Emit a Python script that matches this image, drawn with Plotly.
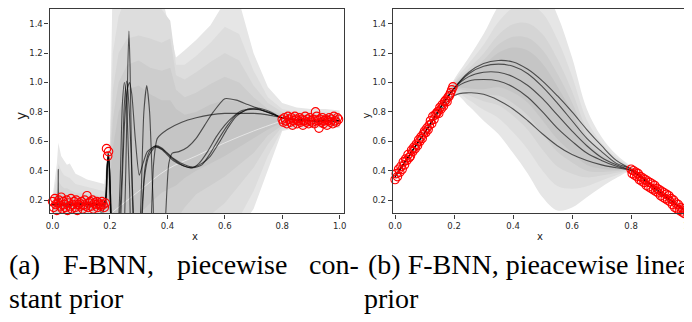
import plotly.graph_objects as go

# ---------------- data: left panel (a) ----------------
XL = [0.0, 0.015, 0.02, 0.03, 0.04, 0.05, 0.06, 0.08, 0.1, 0.12, 0.14, 0.16, 0.18, 0.19, 0.2,
      0.21, 0.23, 0.26, 0.3, 0.34, 0.38, 0.41, 0.43, 0.46, 0.5, 0.55, 0.6, 0.65, 0.7, 0.75,
      0.8, 0.85, 0.9, 0.95, 1.0]
A_B1_U = [0.22, 0.45, 0.59, 0.50, 0.47, 0.44, 0.45, 0.38, 0.36, 0.34, 0.33, 0.32, 0.31, 0.50, 0.60,
          1.80, 1.80, 1.80, 1.80, 1.80, 1.60, 1.35, 1.17, 1.22, 1.29, 1.39, 1.55, 1.55, 1.20, 0.97,
          0.86, 0.83, 0.82, 0.82, 0.81]
A_B1_L = [0.10, 0.10, 0.10, 0.10, 0.10, 0.10, 0.10, 0.10, 0.10, 0.10, 0.10, 0.10, 0.10, 0.10, 0.10,
          0.0, 0.0, 0.0, 0.0, 0.0, 0.0, 0.0, 0.0, 0.0, 0.0, 0.0, 0.0, 0.0, 0.14, 0.41,
          0.67, 0.69, 0.69, 0.69, 0.69]
A_B2_U = [0.20, 0.36, 0.45, 0.40, 0.37, 0.36, 0.35, 0.31, 0.30, 0.29, 0.28, 0.27, 0.26, 0.45, 0.56,
          1.20, 1.45, 1.60, 1.65, 1.60, 1.50, 1.42, 1.12, 1.12, 1.18, 1.27, 1.38, 1.33, 1.08, 0.90,
          0.82, 0.80, 0.80, 0.80, 0.79]
A_B2_L = [0.11, 0.11, 0.11, 0.11, 0.11, 0.11, 0.11, 0.11, 0.11, 0.11, 0.11, 0.11, 0.11, 0.11, 0.11,
          0.0, 0.0, 0.0, 0.0, 0.0, 0.0, 0.0, 0.0, 0.0, 0.0, 0.0, 0.0, 0.08, 0.26, 0.50,
          0.68, 0.70, 0.70, 0.70, 0.70]
A_B3_U = [0.19, 0.27, 0.33, 0.30, 0.28, 0.28, 0.27, 0.25, 0.25, 0.24, 0.24, 0.23, 0.23, 0.40, 0.50,
          0.95, 1.20, 1.30, 1.32, 1.30, 1.27, 1.30, 1.05, 1.02, 1.07, 1.14, 1.20, 1.15, 0.98, 0.86,
          0.80, 0.78, 0.78, 0.78, 0.78]
A_B3_L = [0.12, 0.12, 0.12, 0.12, 0.12, 0.12, 0.12, 0.12, 0.12, 0.12, 0.12, 0.12, 0.12, 0.12, 0.12,
          0.0, 0.0, 0.0, 0.0, 0.0, 0.0, 0.0, 0.0, 0.0, 0.0, 0.10, 0.18, 0.30, 0.42, 0.58,
          0.70, 0.71, 0.71, 0.71, 0.71]
A_B4_U = [0.18, 0.22, 0.26, 0.24, 0.23, 0.23, 0.22, 0.22, 0.22, 0.21, 0.21, 0.21, 0.21, 0.35, 0.45,
          0.75, 1.00, 1.12, 1.15, 1.10, 1.08, 1.10, 0.95, 0.90, 0.93, 0.99, 1.04, 1.00, 0.90, 0.82,
          0.78, 0.77, 0.77, 0.77, 0.77]
A_B4_L = [0.13, 0.13, 0.13, 0.13, 0.13, 0.13, 0.13, 0.13, 0.13, 0.13, 0.13, 0.13, 0.13, 0.13, 0.13,
          0.0, 0.0, 0.0, 0.0, 0.0, 0.0, 0.0, 0.05, 0.15, 0.24, 0.30, 0.36, 0.44, 0.52, 0.64,
          0.71, 0.72, 0.72, 0.72, 0.72]
A_B5_U = [0.17, 0.20, 0.22, 0.21, 0.20, 0.20, 0.20, 0.20, 0.20, 0.19, 0.19, 0.19, 0.19, 0.30, 0.35,
          0.55, 0.80, 0.95, 0.98, 0.92, 0.88, 0.88, 0.82, 0.78, 0.80, 0.85, 0.88, 0.87, 0.82, 0.78,
          0.76, 0.76, 0.76, 0.76, 0.76]
A_B5_L = [0.14, 0.14, 0.14, 0.14, 0.14, 0.14, 0.14, 0.14, 0.14, 0.14, 0.14, 0.14, 0.14, 0.14, 0.14,
          0.0, 0.0, 0.0, 0.10, 0.18, 0.25, 0.28, 0.30, 0.35, 0.40, 0.45, 0.50, 0.56, 0.62, 0.68,
          0.73, 0.73, 0.73, 0.73, 0.73]

A_MEAN_X = [0.21, 0.3, 0.4, 0.5, 0.6, 0.7, 0.8]
A_MEAN_Y = [0.12, 0.26, 0.41, 0.50, 0.59, 0.67, 0.74]

A_L1_X = [0.0, 0.06, 0.12, 0.17, 0.183, 0.19, 0.194, 0.199, 0.205, 0.22, 0.245, 0.255, 0.262, 0.266,
          0.27, 0.277, 0.29, 0.32, 0.34, 0.352, 0.365, 0.4, 0.45, 0.5, 0.55, 0.6, 0.65, 0.7, 0.75,
          0.8, 0.9, 1.0]
A_L1_Y = [0.17, 0.17, 0.17, 0.17, 0.19, 0.40, 0.52, 0.40, 0.05, -0.5, -0.2, 0.4, 1.1, 1.35,
          1.1, 0.3, -0.3, -0.5, -0.1, 0.45, 0.62, 0.68, 0.73, 0.76, 0.78, 0.79, 0.79, 0.79, 0.78,
          0.76, 0.74, 0.74]
A_L2_X = [0.0, 0.06, 0.12, 0.17, 0.183, 0.19, 0.194, 0.199, 0.205, 0.22, 0.238, 0.25, 0.26, 0.268,
          0.276, 0.288, 0.302, 0.315, 0.33, 0.355, 0.38, 0.42, 0.46, 0.486, 0.51, 0.54, 0.57, 0.6,
          0.63, 0.66, 0.7, 0.75, 0.8, 0.9, 1.0]
A_L2_Y = [0.17, 0.16, 0.18, 0.17, 0.18, 0.40, 0.51, 0.40, 0.05, -0.4, 0.1, 0.7, 0.95, 1.0,
          0.92, 0.62, 0.37, 0.45, 0.53, 0.565, 0.55, 0.48, 0.43, 0.42, 0.45, 0.53, 0.63, 0.71,
          0.77, 0.81, 0.82, 0.80, 0.76, 0.74, 0.74]
A_L3_X = [0.0, 0.015, 0.02, 0.025, 0.05, 0.1, 0.15, 0.18, 0.188, 0.193, 0.198, 0.205, 0.22, 0.235,
          0.243, 0.25, 0.258, 0.268, 0.285, 0.3, 0.31, 0.32, 0.335, 0.357, 0.38, 0.42, 0.46, 0.49,
          0.52, 0.55, 0.58, 0.61, 0.64, 0.68, 0.72, 0.76, 0.8, 0.9, 1.0]
A_L3_Y = [0.17, 0.17, 0.41, 0.17, 0.16, 0.17, 0.17, 0.17, 0.35, 0.52, 0.35, 0.05, -0.3, 0.3,
          0.85, 1.0, 0.85, 0.3, -0.4, -0.4, 0.0, 0.35, 0.5, 0.56, 0.545, 0.47, 0.43, 0.42,
          0.44, 0.52, 0.62, 0.71, 0.78, 0.815, 0.815, 0.79, 0.76, 0.74, 0.74]
A_L4_X = [0.0, 0.06, 0.12, 0.17, 0.185, 0.191, 0.196, 0.202, 0.215, 0.24, 0.25, 0.258, 0.266, 0.28,
          0.295, 0.308, 0.318, 0.328, 0.338, 0.35, 0.365, 0.38, 0.394, 0.405, 0.417, 0.44, 0.47,
          0.5, 0.53, 0.56, 0.6, 0.64, 0.68, 0.72, 0.76, 0.8, 0.9, 1.0]
A_L4_Y = [0.17, 0.18, 0.16, 0.17, 0.2, 0.45, 0.5, 0.1, -0.4, 0.3, 0.85, 1.01, 0.85, 0.2,
          -0.4, 0.2, 0.8, 0.98, 0.8, 0.2, -0.4, -0.4, 0.1, 0.45, 0.52, 0.53, 0.56,
          0.62, 0.71, 0.80, 0.89, 0.88, 0.85, 0.82, 0.79, 0.76, 0.74, 0.74]
A_L5_X = [0.0, 0.06, 0.12, 0.16, 0.172, 0.185, 0.192, 0.197, 0.203, 0.22, 0.26, 0.3, 0.312, 0.322,
          0.337, 0.358, 0.38, 0.42, 0.46, 0.49, 0.52, 0.55, 0.58, 0.61, 0.64, 0.68, 0.72, 0.76,
          0.8, 0.9, 1.0]
A_L5_Y = [0.17, 0.17, 0.18, 0.17, 0.10, 0.2, 0.48, 0.45, 0.05, -0.4, -0.5, -0.3, 0.15, 0.42,
          0.53, 0.57, 0.555, 0.485, 0.44, 0.425, 0.45, 0.5, 0.59, 0.69, 0.77, 0.82, 0.825, 0.80,
          0.76, 0.74, 0.74]

A_PTS1_X = [0.0, 0.004, 0.008, 0.011, 0.015, 0.019, 0.022, 0.026, 0.03, 0.034, 0.037, 0.041, 0.045,
            0.049, 0.052, 0.056, 0.06, 0.064, 0.067, 0.071, 0.075, 0.079, 0.082, 0.086, 0.09,
            0.094, 0.097, 0.101, 0.105, 0.109, 0.112, 0.116, 0.12, 0.124, 0.127, 0.131, 0.135,
            0.139, 0.142, 0.146, 0.15, 0.154, 0.157, 0.161, 0.165, 0.169, 0.172, 0.176, 0.18, 0.184]
A_PTS1_Y = [0.19, 0.15, 0.21, 0.17, 0.13, 0.18, 0.20, 0.16, 0.22, 0.14, 0.19, 0.17, 0.15,
            0.20, 0.13, 0.18, 0.16, 0.21, 0.14, 0.17, 0.19, 0.15, 0.20, 0.13, 0.17,
            0.18, 0.16, 0.19, 0.14, 0.17, 0.20, 0.16, 0.23, 0.15, 0.18, 0.19, 0.16,
            0.20, 0.14, 0.18, 0.17, 0.19, 0.15, 0.18, 0.17, 0.16, 0.19, 0.17, 0.15, 0.18]
A_PTS2_X = [0.188, 0.192, 0.195]
A_PTS2_Y = [0.55, 0.50, 0.53]
A_PTS3_X = [0.800, 0.804, 0.808, 0.812, 0.816, 0.820, 0.824, 0.828, 0.832, 0.836,
            0.840, 0.844, 0.848, 0.852, 0.856, 0.860, 0.864, 0.868, 0.872, 0.876,
            0.880, 0.884, 0.888, 0.892, 0.896, 0.900, 0.904, 0.908, 0.912, 0.916,
            0.920, 0.924, 0.928, 0.932, 0.936, 0.940, 0.944, 0.948, 0.952, 0.956,
            0.960, 0.964, 0.968, 0.972, 0.976, 0.980, 0.984, 0.988, 0.992, 0.996]
A_PTS3_Y = [0.75, 0.73, 0.76, 0.74, 0.72, 0.77, 0.75, 0.73, 0.76, 0.71,
            0.74, 0.77, 0.75, 0.72, 0.74, 0.76, 0.73, 0.75, 0.71, 0.74,
            0.77, 0.73, 0.75, 0.72, 0.76, 0.74, 0.73, 0.75, 0.72, 0.80,
            0.77, 0.74, 0.69, 0.75, 0.73, 0.76, 0.72, 0.74, 0.75, 0.71,
            0.74, 0.76, 0.73, 0.75, 0.72, 0.77, 0.74, 0.73, 0.76, 0.75]

# ---------------- data: right panel (b) ----------------
XR = [0.0, 0.1, 0.2, 0.25, 0.3, 0.35, 0.4, 0.45, 0.5, 0.55, 0.6, 0.65, 0.7, 0.75, 0.8, 0.9, 1.0]
B_B1_U = [0.38, 0.67, 1.02, 1.17, 1.33, 1.52, 1.65, 1.70, 1.65, 1.46, 1.17, 0.82, 0.63, 0.51, 0.43, 0.27, 0.12]
B_B1_L = [0.34, 0.63, 0.92, 0.84, 0.74, 0.65, 0.52, 0.38, 0.22, 0.13, 0.15, 0.22, 0.29, 0.35, 0.39, 0.23, 0.08]
B_B2_U = [0.375, 0.665, 1.008, 1.129, 1.256, 1.411, 1.509, 1.535, 1.471, 1.294, 1.043, 0.745, 0.588, 0.49, 0.425, 0.265, 0.115]
B_B2_L = [0.345, 0.635, 0.933, 0.881, 0.814, 0.759, 0.661, 0.545, 0.399, 0.296, 0.278, 0.295, 0.333, 0.37, 0.395, 0.235, 0.085]
B_B3_U = [0.371, 0.661, 0.998, 1.096, 1.197, 1.324, 1.396, 1.403, 1.328, 1.161, 0.941, 0.685, 0.554, 0.474, 0.421, 0.261, 0.111]
B_B3_L = [0.349, 0.639, 0.943, 0.914, 0.873, 0.846, 0.774, 0.677, 0.542, 0.429, 0.380, 0.355, 0.367, 0.386, 0.399, 0.239, 0.089]
B_B4_U = [0.368, 0.658, 0.99, 1.071, 1.153, 1.259, 1.311, 1.304, 1.221, 1.061, 0.864, 0.64, 0.528, 0.462, 0.418, 0.258, 0.108]
B_B4_L = [0.352, 0.642, 0.95, 0.939, 0.917, 0.911, 0.859, 0.776, 0.649, 0.529, 0.456, 0.40, 0.392, 0.398, 0.402, 0.242, 0.092]
B_B5_U = [0.365, 0.655, 0.984, 1.050, 1.115, 1.202, 1.238, 1.218, 1.128, 0.975, 0.798, 0.601, 0.506, 0.452, 0.415, 0.255, 0.105]
B_B5_L = [0.355, 0.645, 0.957, 0.960, 0.955, 0.968, 0.932, 0.862, 0.742, 0.615, 0.522, 0.439, 0.414, 0.408, 0.405, 0.245, 0.095]

B_LA = [0.36, 0.66, 0.96, 1.07, 1.13, 1.15, 1.14, 1.09, 1.01, 0.91, 0.80, 0.68, 0.57, 0.47, 0.41, 0.25, 0.10]
B_LB = [0.36, 0.66, 0.96, 1.06, 1.11, 1.125, 1.11, 1.06, 0.97, 0.86, 0.74, 0.62, 0.53, 0.45, 0.41, 0.25, 0.10]
B_LC = [0.36, 0.66, 0.96, 1.04, 1.07, 1.07, 1.04, 0.98, 0.89, 0.78, 0.67, 0.57, 0.49, 0.44, 0.40, 0.25, 0.10]
B_LD = [0.36, 0.66, 0.955, 1.01, 1.02, 1.01, 0.97, 0.90, 0.80, 0.69, 0.60, 0.52, 0.47, 0.43, 0.40, 0.25, 0.10]
B_LE = [0.36, 0.66, 0.91, 0.93, 0.92, 0.88, 0.82, 0.74, 0.65, 0.57, 0.51, 0.47, 0.44, 0.42, 0.40, 0.25, 0.10]

B_PTS1_X = [0.0, 0.004, 0.008, 0.012, 0.016, 0.02, 0.024, 0.028, 0.032, 0.036, 0.04, 0.044, 0.048,
            0.052, 0.056, 0.06, 0.064, 0.068, 0.072, 0.076, 0.08, 0.084, 0.088, 0.092, 0.096, 0.1,
            0.104, 0.108, 0.112, 0.116, 0.12, 0.124, 0.128, 0.132, 0.136, 0.14, 0.144, 0.148,
            0.152, 0.156, 0.16, 0.164, 0.168, 0.172, 0.176, 0.18, 0.184, 0.188, 0.192, 0.196]
B_PTS1_Y = [0.34, 0.38, 0.36, 0.41, 0.39, 0.43, 0.41, 0.46, 0.44, 0.48, 0.47, 0.51, 0.49,
            0.50, 0.54, 0.53, 0.56, 0.55, 0.58, 0.57, 0.61, 0.60, 0.63, 0.62, 0.65, 0.67,
            0.66, 0.69, 0.68, 0.71, 0.74, 0.72, 0.77, 0.75, 0.78, 0.79, 0.80, 0.79,
            0.83, 0.82, 0.85, 0.84, 0.87, 0.88, 0.87, 0.90, 0.91, 0.93, 0.95, 0.97]
B_PTS2_X = [0.800, 0.804, 0.808, 0.812, 0.816, 0.820, 0.824, 0.828, 0.832, 0.836,
            0.840, 0.844, 0.848, 0.852, 0.856, 0.860, 0.864, 0.868, 0.872, 0.876,
            0.880, 0.884, 0.888, 0.892, 0.896, 0.900, 0.904, 0.908, 0.912, 0.916,
            0.920, 0.924, 0.928, 0.932, 0.936, 0.940, 0.944, 0.948, 0.952, 0.956,
            0.960, 0.964, 0.968, 0.972, 0.976, 0.980, 0.984, 0.988, 0.992, 0.996]
B_PTS2_Y = [0.41, 0.38, 0.40, 0.37, 0.39, 0.36, 0.38, 0.34, 0.36, 0.33,
            0.35, 0.32, 0.34, 0.30, 0.33, 0.29, 0.32, 0.28, 0.31, 0.27,
            0.30, 0.26, 0.28, 0.25, 0.27, 0.23, 0.26, 0.22, 0.25, 0.21,
            0.24, 0.20, 0.23, 0.19, 0.21, 0.17, 0.20, 0.15, 0.18, 0.14,
            0.17, 0.13, 0.15, 0.12, 0.14, 0.11, 0.13, 0.10, 0.12, 0.10]

TICKS_X = [0.0, 0.2, 0.4, 0.6, 0.8, 1.0]
TICKS_Y = [0.2, 0.4, 0.6, 0.8, 1.0, 1.2, 1.4]

# ---------------- styles / layout helpers ----------------
W, H = 692, 322
OFF = 8  # the page body margin shifts the figure by 8 px; compensate
BAND_COLORS = ['#e6e6e6', '#dddddd', '#d5d5d5', '#cdcdcd', '#c5c5c5']
LINE_COLOR = 'rgba(0,0,0,0.62)'

def fx(p):
    return (p - OFF) / W

def fy(p):
    return 1 - (p - OFF) / H

fig = go.Figure()

def add_bands(xs, bands, xa, ya, shape):
    for (u, l), col in zip(bands, BAND_COLORS):
        fig.add_trace(go.Scatter(
            x=list(xs) + list(xs)[::-1], y=list(u) + list(l)[::-1],
            mode='lines', fill='toself', fillcolor=col,
            line=dict(color=col, width=0, shape=shape),
            hoverinfo='skip', showlegend=False, xaxis=xa, yaxis=ya))

def add_line(xs, ys, xa, ya, smoothing=0.6):
    fig.add_trace(go.Scatter(
        x=xs, y=ys, mode='lines',
        line=dict(color=LINE_COLOR, width=1.1, shape='spline', smoothing=smoothing),
        hoverinfo='skip', showlegend=False, xaxis=xa, yaxis=ya))

def add_pts(xs, ys, xa, ya):
    fig.add_trace(go.Scatter(
        x=xs, y=ys, mode='markers',
        marker=dict(symbol='circle-open', size=8.5, color='#ff0000', line=dict(width=1.1)),
        hoverinfo='skip', showlegend=False, xaxis=xa, yaxis=ya, cliponaxis=False))

# left panel
add_bands(XL, [(A_B1_U, A_B1_L), (A_B2_U, A_B2_L), (A_B3_U, A_B3_L),
               (A_B4_U, A_B4_L), (A_B5_U, A_B5_L)], 'x', 'y', 'linear')
fig.add_trace(go.Scatter(x=A_MEAN_X, y=A_MEAN_Y, mode='lines',
                         line=dict(color='rgba(255,255,255,0.55)', width=1, shape='spline'),
                         hoverinfo='skip', showlegend=False, xaxis='x', yaxis='y'))
for xs, ys in [(A_L1_X, A_L1_Y), (A_L2_X, A_L2_Y), (A_L3_X, A_L3_Y),
               (A_L4_X, A_L4_Y), (A_L5_X, A_L5_Y)]:
    add_line(xs, ys, 'x', 'y')
add_pts(A_PTS1_X, A_PTS1_Y, 'x', 'y')
add_pts(A_PTS2_X, A_PTS2_Y, 'x', 'y')
add_pts(A_PTS3_X, A_PTS3_Y, 'x', 'y')

# right panel
add_bands(XR, [(B_B1_U, B_B1_L), (B_B2_U, B_B2_L), (B_B3_U, B_B3_L),
               (B_B4_U, B_B4_L), (B_B5_U, B_B5_L)], 'x2', 'y2', 'spline')
for ys in [B_LA, B_LB, B_LC, B_LD, B_LE]:
    add_line(XR, ys, 'x2', 'y2', smoothing=1.0)
add_pts(B_PTS1_X, B_PTS1_Y, 'x2', 'y2')
add_pts(B_PTS2_X, B_PTS2_Y, 'x2', 'y2')

tickfont = dict(family='DejaVu Sans', size=8.5, color='#2a2a2a')
axis_common = dict(showgrid=False, zeroline=False, showline=True, linecolor='#3a3a3a',
                   linewidth=1.3, ticks='outside', ticklen=4, tickwidth=1,
                   tickcolor='#3a3a3a', tickfont=tickfont)
ydom = [fy(213), fy(8)]

fig.update_layout(
    width=W, height=H, margin=dict(l=0, r=0, t=0, b=0),
    paper_bgcolor='white', plot_bgcolor='white', showlegend=False,
    xaxis=dict(domain=[fx(46), fx(343)], range=[-0.0103, 1.0138], anchor='y', mirror=True,
               tickvals=TICKS_X, ticktext=['%.1f' % v for v in TICKS_X], **axis_common),
    yaxis=dict(domain=ydom, range=[0.11, 1.5], anchor='x', mirror=True,
               tickvals=TICKS_Y, ticktext=['%.1f' % v for v in TICKS_Y], **axis_common),
    xaxis2=dict(domain=[fx(392.7), 1.0], range=[-0.0077, 1.0235], anchor='y2', mirror=True,
                tickvals=TICKS_X, ticktext=['%.1f' % v for v in TICKS_X], **axis_common),
    yaxis2=dict(domain=ydom, range=[0.11, 1.5], anchor='x2', mirror=False,
                tickvals=TICKS_Y, ticktext=['%.1f' % v for v in TICKS_Y], **axis_common),
)

ann = []
def label(text, x, y, size, family='DejaVu Sans', angle=0, xanchor='center', color='#222'):
    ann.append(dict(text=text, x=fx(x), y=fy(y), xref='paper', yref='paper',
                    showarrow=False, textangle=angle, xanchor=xanchor, yanchor='middle',
                    font=dict(family=family, size=size, color=color)))

label('y', 16.5, 115, 14, angle=-90)
label('y', 366.5, 115, 10, angle=-90)
label('x', 193, 236, 10)
label('x', 541, 236, 10)

serif = 'Liberation Serif'
cap = 28
label('(a)', 3, 264, cap, family=serif, xanchor='left', color='black')
label('F-BNN,', 58, 264, cap, family=serif, xanchor='left', color='black')
label('piecewise', 172.5, 264, cap, family=serif, xanchor='left', color='black')
label('con-', 306, 264, cap, family=serif, xanchor='left', color='black')
label('(b) F-BNN, pieacewise linear', 366, 264, cap, family=serif, xanchor='left', color='black')
label('stant prior', 3, 298, cap, family=serif, xanchor='left', color='black')
label('prior', 362, 298, cap, family=serif, xanchor='left', color='black')

fig.update_layout(annotations=ann)
fig.write_html('out.html')
